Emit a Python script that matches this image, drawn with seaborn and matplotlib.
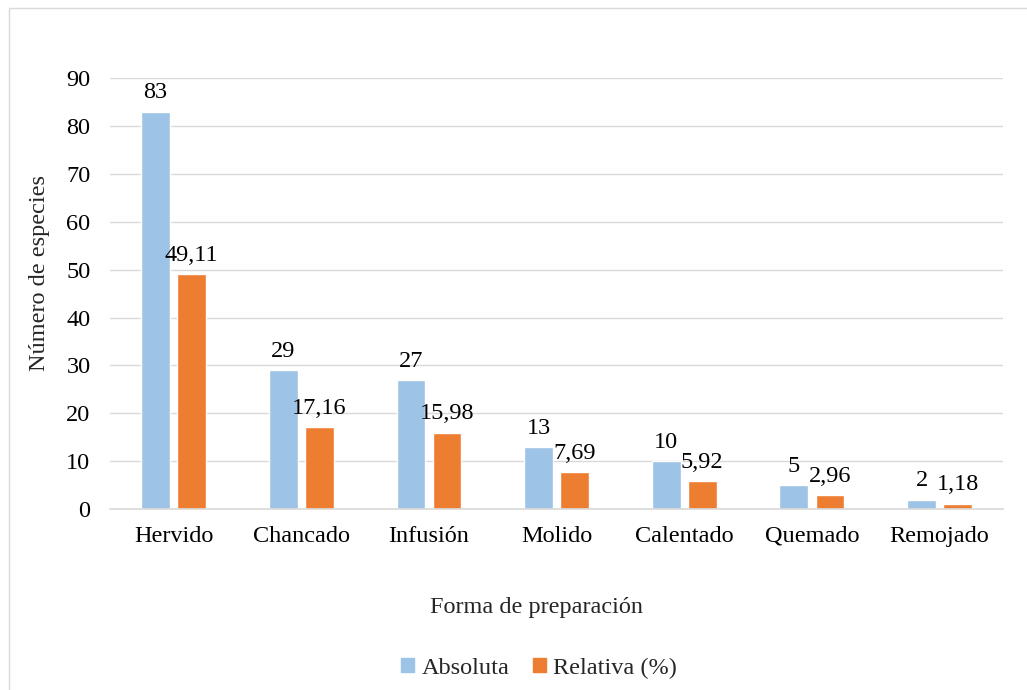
import matplotlib
matplotlib.use("Agg")
import matplotlib.pyplot as plt
import matplotlib.patches as mpatches
import seaborn as sns
import pandas as pd

categorias = ["Hervido", "Chancado", "Infusión", "Molido", "Calentado", "Quemado", "Remojado"]
absoluta = [83, 29, 27, 13, 10, 5, 2]
relativa = [49.11, 17.16, 15.98, 7.69, 5.92, 2.96, 1.18]
series = ["Absoluta", "Relativa (%)"]
colores = ["#9DC3E6", "#ED7D31"]

df = pd.DataFrame({
    "Forma": categorias * 2,
    "Valor": absoluta + relativa,
    "Serie": [series[0]] * len(categorias) + [series[1]] * len(categorias),
})

sns.set_theme(style="white")
plt.rcParams["font.family"] = ["Liberation Serif", "DejaVu Serif"]
FS = 17.5

fig = plt.figure(figsize=(10.27, 6.90), dpi=100)
ax = fig.add_axes([0.107, 0.262, 0.870, 0.625])

sns.barplot(data=df, x="Forma", y="Valor", hue="Serie", palette=colores,
            width=0.565, gap=0.2, ax=ax, saturation=1, legend=False)

ax.set_ylim(0, 90)
ax.set_yticks(range(0, 91, 10))
ax.grid(axis="y", color="#D9D9D9", linewidth=1)
ax.set_axisbelow(True)
for s in ["top", "right", "left"]:
    ax.spines[s].set_visible(False)
ax.spines["bottom"].set_color("#D9D9D9")
ax.spines["bottom"].set_linewidth(1.2)
ax.tick_params(axis="both", length=0, labelsize=FS, colors="black")
ax.tick_params(axis="x", pad=12)
ax.tick_params(axis="y", pad=14)
ax.set_xlim(-0.5, len(categorias) - 0.5)

fmt = [lambda v: f"{v:.0f}", lambda v: f"{v:.2f}".replace(".", ",")]
for cont, f in zip(ax.containers, fmt):
    ax.bar_label(cont, labels=[f(b.get_height()) for b in cont], padding=6,
                 fontsize=FS, color="black")

ax.set_ylabel("")
ax.set_xlabel("")
fig.text(40 / 1027, 1 - 273 / 690, "Número de especies", rotation=90,
         ha="center", va="center", fontsize=FS)
fig.text(537 / 1027, 1 - 607 / 690, "Forma de preparación", ha="center",
         va="center", fontsize=FS)

handles = [mpatches.Patch(color=c) for c in colores]
fig.legend(handles, series, loc="center", bbox_to_anchor=(539 / 1027, 1 - 668 / 690),
           ncol=2, frameon=False, fontsize=FS,
           handlelength=0.55, handleheight=0.55, handletextpad=0.3, columnspacing=0.95)

border = mpatches.Rectangle((9 / 1027, -0.05), 2.0, 1 - 8 / 690 + 0.05,
                            transform=fig.transFigure, fill=False,
                            edgecolor="#D9D9D9", linewidth=1, clip_on=False)
fig.patches.append(border)

fig.savefig("out.png", dpi=100)
